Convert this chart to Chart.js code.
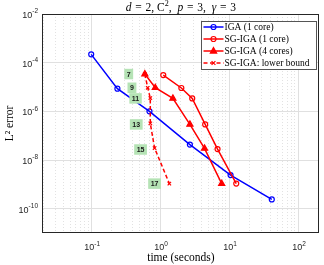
<!DOCTYPE html>
<html><head><meta charset="utf-8">
<script src="https://cdn.jsdelivr.net/npm/chart.js@4/dist/chart.umd.min.js"></script>
<style>html,body{margin:0;padding:0;background:#fff}#wrap{width:324px;height:265px;position:relative}</style>
</head><body><div id="wrap"><canvas id="c"></canvas></div>
<script>
// ---- data ----
const seriesNames = ['IGA (1 core)', 'SG-IGA (1 core)', 'SG-IGA (4 cores)', 'SG-IGA: lower bound'];
const igaTime  = [0.10, 0.24, 0.70, 2.7, 10.5, 41.6];
const igaError = [2.2e-4, 8.5e-6, 1.0e-6, 4.3e-8, 2.4e-9, 2.4e-10];
const sg1Time  = [1.11, 2.03, 2.92, 4.5, 6.8, 12.7];
const sg1Error = [3.1e-5, 9.1e-6, 3.4e-6, 2.9e-7, 2.8e-8, 1.07e-9];
const sg4Time  = [0.60, 0.85, 1.53, 2.7, 4.4, 7.8];
const sg4Error = [3.4e-5, 9.3e-6, 3.4e-6, 2.9e-7, 3.0e-8, 1.07e-9];
const lbTime   = [0.60, 0.66, 0.72, 0.72, 0.83, 1.36];
const lbError  = [3.4e-5, 9.3e-6, 3.5e-6, 3.2e-7, 3.1e-8, 1.07e-9];
const levelLabels     = ['7', '9', '11', '13', '15', '17'];
const levelLabelTime  = [0.35, 0.39, 0.44, 0.45, 0.52, 0.83];
const levelLabelError = [3.4e-5, 9.3e-6, 3.4e-6, 2.9e-7, 2.7e-8, 1.07e-9];
const xMajorTicks = [0.1, 1, 10, 100];
const yMajorTicks = [1e-2, 1e-4, 1e-6, 1e-8, 1e-10];
const xRange = [0.02, 200];
const yRange = [1e-11, 1e-2];
const xTitle = 'time (seconds)';
const yTitle = 'L\u00B2 error';

// minor x grid positions (1..9 per decade inside range)
const xAllTicks = [];
for (let d = -2; d <= 2; d++) for (let m = 1; m <= 9; m++) {
  const v = +(m * Math.pow(10, d)).toPrecision(4);
  if (v >= xRange[0] * 0.999 && v <= xRange[1] * 1.001) xAllTicks.push(v);
}
const isMajor = (arr, v) => arr.some(m => Math.abs(m - v) / m < 1e-6);
const pts = (xs, ys) => xs.map((x, i) => ({x: x, y: ys[i]}));

const BLUE = '#0000ff', RED = '#ff0000', INK = '#262626';
const serif = "'Liberation Serif', 'DejaVu Serif', serif";
const sans = "'Liberation Sans', Arial, sans-serif";

const styles = [
  {color: BLUE, style: 'circle', r: 2.5, fill: false, dash: []},
  {color: RED, style: 'circle', r: 2.5, fill: false, dash: []},
  {color: RED, style: 'triangle', r: 3.5, fill: true, dash: []},
  {color: RED, style: 'crossRot', r: 2.4, fill: false, dash: [4, 2.5]}
];
const seriesData = [pts(igaTime, igaError), pts(sg1Time, sg1Error), pts(sg4Time, sg4Error), pts(lbTime, lbError)];

function drawMarker(ctx, s, x, y) {
  ctx.save();
  ctx.strokeStyle = s.color; ctx.fillStyle = s.color; ctx.lineWidth = 1.2; ctx.setLineDash([]);
  ctx.beginPath();
  if (s.style === 'circle') { ctx.arc(x, y, s.r, 0, Math.PI * 2); }
  else if (s.style === 'triangle') {
    const r = s.r; ctx.moveTo(x, y - r); ctx.lineTo(x + r * 0.9, y + r * 0.6); ctx.lineTo(x - r * 0.9, y + r * 0.6); ctx.closePath();
  } else { const r = s.r * 0.8; ctx.moveTo(x - r, y - r); ctx.lineTo(x + r, y + r); ctx.moveTo(x + r, y - r); ctx.lineTo(x - r, y + r); }
  if (s.fill) ctx.fill();
  ctx.stroke();
  ctx.restore();
}

function powLabel(ctx, exp, x, y, align) {
  const base = '10', sup = String(exp);
  ctx.font = '9px ' + sans; const wb = ctx.measureText(base).width;
  ctx.font = '6.5px ' + sans; const ws = ctx.measureText(sup).width;
  const w = wb + ws;
  let x0 = align === 'right' ? x - w : x - w / 2;
  ctx.fillStyle = INK; ctx.textBaseline = 'middle'; ctx.textAlign = 'left';
  ctx.font = '9px ' + sans; ctx.fillText(base, x0, y);
  ctx.font = '6.5px ' + sans; ctx.fillText(sup, x0 + wb, y - 4);
}

const decor = {
  id: 'decor',
  afterDatasetsDraw(chart) {
    const {ctx, chartArea: a, scales: {x, y}} = chart;
    // level labels (green boxes)
    ctx.save();
    ctx.font = 'bold 7px ' + sans;
    levelLabels.forEach((t, i) => {
      const px = x.getPixelForValue(levelLabelTime[i]), py = y.getPixelForValue(levelLabelError[i]);
      const w = ctx.measureText(t).width + 5, h = 10.5;
      ctx.fillStyle = '#b5e3b5';
      ctx.fillRect(px - w / 2, py - h / 2, w, h);
      ctx.fillStyle = '#1a1a1a'; ctx.textAlign = 'center'; ctx.textBaseline = 'middle';
      ctx.fillText(t, px, py + 0.5);
    });
    ctx.restore();
  },
  afterDraw(chart) {
    const {ctx, chartArea: a, scales: {x, y}} = chart;
    ctx.save();
    // axes box
    ctx.strokeStyle = INK; ctx.lineWidth = 1; ctx.setLineDash([]);
    ctx.strokeRect(Math.round(a.left) - 0.5, Math.round(a.top) + 0.5, Math.round(a.right - a.left), Math.round(a.bottom - a.top) - 1);
    // tick labels
    yMajorTicks.forEach(v => powLabel(ctx, Math.round(Math.log10(v)), a.left - 5, y.getPixelForValue(v) + 1.5, 'right'));
    xMajorTicks.forEach(v => powLabel(ctx, Math.round(Math.log10(v)), x.getPixelForValue(v) + 1, a.bottom + 15, 'center'));
    // title with math italics and TeX-like spacing
    const eq = '\u2004=\u2004';
    const segs = [['d', 'italic'], [eq + '2, C', ''], ['2', 'sup'], [',\u2002', ''], ['p', 'italic'], [eq + '3,\u2002', ''], ['\u03B3', 'italic'], [eq + '3', '']];
    const fsz = 11.5;
    const fontOf = k => (k === 'italic' ? 'italic ' : '') + (k === 'sup' ? (fsz * 0.7) : fsz) + 'px ' + serif;
    let tw = 0; segs.forEach(s => { ctx.font = fontOf(s[1]); tw += ctx.measureText(s[0]).width; });
    let tx = (a.left + a.right) / 2 - tw / 2;
    ctx.fillStyle = '#000'; ctx.textBaseline = 'middle'; ctx.textAlign = 'left';
    segs.forEach(s => { ctx.font = fontOf(s[1]); ctx.fillText(s[0], tx, s[1] === 'sup' ? 4 : 7.5); tx += ctx.measureText(s[0]).width; });
    // legend
    const lx = 201.5, ly = 21.5, lw = 115, lh = 48;
    ctx.fillStyle = '#fff'; ctx.fillRect(lx, ly, lw, lh);
    ctx.strokeStyle = '#555'; ctx.lineWidth = 1; ctx.strokeRect(lx, ly, lw, lh);
    seriesNames.forEach((name, i) => {
      const s = styles[i]; const ry = 27 + i * 12;
      ctx.strokeStyle = s.color; ctx.lineWidth = 1.5; ctx.setLineDash(s.dash);
      ctx.beginPath(); ctx.moveTo(lx + 2, ry); ctx.lineTo(lx + 22, ry); ctx.stroke();
      ctx.setLineDash([]);
      drawMarker(ctx, s, lx + 12, ry);
      ctx.fillStyle = '#000'; ctx.font = '9.5px ' + serif; ctx.textBaseline = 'middle';
      ctx.fillText(name, lx + 23, ry + 0.5);
    });
    ctx.restore();
  }
};

new Chart(document.getElementById('c'), {
  type: 'scatter',
  data: {
    datasets: seriesData.map((d, i) => ({
      label: seriesNames[i], data: d, showLine: true,
      borderColor: styles[i].color, borderWidth: 1.5, borderDash: styles[i].dash,
      pointStyle: styles[i].style, pointRadius: styles[i].r, pointBorderWidth: 1.2,
      pointBorderColor: styles[i].color,
      pointBackgroundColor: styles[i].fill ? styles[i].color : 'rgba(0,0,0,0)',
      order: 4 - i
    }))
  },
  options: {
    responsive: true, maintainAspectRatio: false, animation: false,
    layout: {padding: {top: 14, right: 1.5, left: 0, bottom: 0}},
    plugins: {legend: {display: false}, title: {display: false}, tooltip: {enabled: false}},
    scales: {
      x: {
        type: 'logarithmic', min: xRange[0], max: xRange[1], position: 'bottom',
        afterBuildTicks: s => { s.ticks = xAllTicks.map(v => ({value: v, major: isMajor(xMajorTicks, v)})); },
        afterFit: s => { s.height = 32; },
        ticks: {display: false, autoSkip: false},
        grid: {drawTicks: false, color: c => (c.tick && c.tick.major) ? '#e0e0e0' : '#e2e2e2', lineWidth: 1},
        border: {display: false, dash: c => (c.tick && c.tick.major) ? [] : [1, 2]},
        title: {display: true, text: xTitle, color: '#000', font: {family: serif, size: 11.5}, padding: {top: 0, bottom: 0.5}}
      },
      y: {
        type: 'logarithmic', min: yRange[0], max: yRange[1], position: 'left',
        afterBuildTicks: s => { s.ticks = yMajorTicks.map(v => ({value: v, major: true})); },
        afterFit: s => { s.width = 43; },
        ticks: {display: false, autoSkip: false},
        grid: {drawTicks: false, color: '#e0e0e0', lineWidth: 1},
        border: {display: false},
        title: {display: true, text: yTitle, color: '#000', font: {family: serif, size: 11.5}, padding: {top: 3, bottom: 0}}
      }
    }
  },
  plugins: [decor]
});
</script></body></html>
